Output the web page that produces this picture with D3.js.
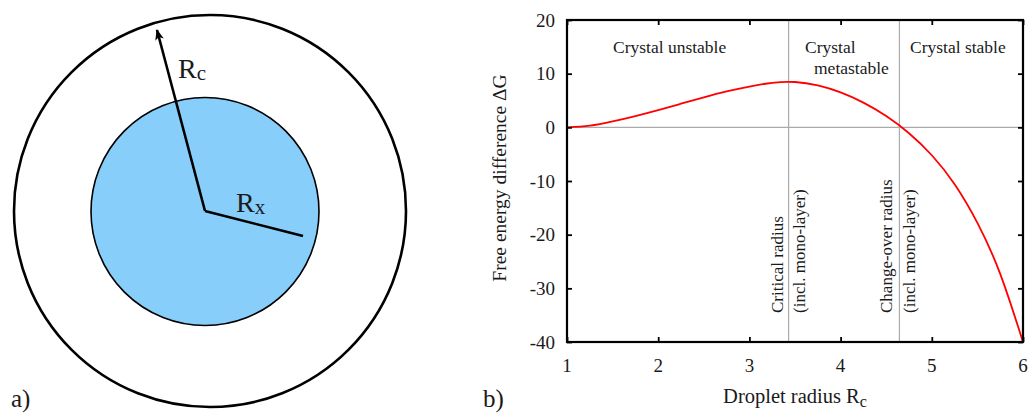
<!DOCTYPE html>
<html>
<head>
<meta charset="utf-8">
<script src="https://cdn.jsdelivr.net/npm/d3@7"></script>
<style>
  body { margin: 0; background: #fff; }
  svg { display: block; font-family: "Liberation Serif", "DejaVu Serif", serif; }
  text { fill: #1a1a1a; }
</style>
</head>
<body>
<div class="chart"></div>
<script>
// DATA ------------------------------------
const radius  = [1, 1.25, 1.5, 1.75, 2, 2.25, 2.5, 2.75, 3, 3.25, 3.5, 3.75, 4, 4.25, 4.5, 4.75, 5, 5.25, 5.5, 5.75, 6];
const deltaG  = [0, 0.3, 1.1, 2.1, 3.2, 4.4, 5.6, 6.7, 7.6, 8.3, 8.45, 7.8, 6.5, 4.6, 2.1, -1.1, -5.2, -10.6, -17.8, -27.3, -40];
const xTicks  = [1, 2, 3, 4, 5, 6];
const yTicks  = [20, 10, 0, -10, -20, -30, -40];
const markers = [3.43, 4.645];            // critical radius, change-over radius
const regions = ["Crystal unstable", "Crystal", "metastable", "Crystal stable"];
const markerLabels = ["Critical radius", "(incl. mono-layer)", "Change-over radius", "(incl. mono-layer)"];

// CHART INIT ------------------------------
const W = 1034, H = 415;
const svg = d3.select(".chart").append("svg")
    .attr("width", W)
    .attr("height", H);

// a) droplet sketch
const sketch = svg.append("g");
sketch.append("circle")
    .attr("cx", 210).attr("cy", 211).attr("r", 196)
    .attr("fill", "none").attr("stroke", "#000").attr("stroke-width", 2.6);
sketch.append("circle")
    .attr("cx", 205).attr("cy", 211.5).attr("r", 114)
    .attr("fill", "#87cefa").attr("stroke", "#000").attr("stroke-width", 1.6);

svg.append("defs").append("marker")
    .attr("id", "head")
    .attr("viewBox", "0 0 10 10")
    .attr("refX", 9).attr("refY", 5)
    .attr("markerWidth", 13).attr("markerHeight", 11)
    .attr("markerUnits", "userSpaceOnUse")
    .attr("orient", "auto")
    .append("path").attr("d", "M0,1 L10,5 L0,9 L2.5,5 Z").attr("fill", "#000");

sketch.append("line")
    .attr("x1", 205).attr("y1", 211).attr("x2", 157).attr("y2", 30)
    .attr("stroke", "#000").attr("stroke-width", 2.6)
    .attr("marker-end", "url(#head)");
sketch.append("line")
    .attr("x1", 205).attr("y1", 211).attr("x2", 303).attr("y2", 236)
    .attr("stroke", "#000").attr("stroke-width", 2.6);

const rc = sketch.append("text").attr("x", 178).attr("y", 78).attr("font-size", 28).text("R");
rc.append("tspan").attr("font-size", 21).attr("dy", 2).text("c");
const rx = sketch.append("text").attr("x", 236).attr("y", 212).attr("font-size", 28).text("R");
rx.append("tspan").attr("font-size", 21).attr("dy", 2).text("x");

svg.append("text").attr("x", 11).attr("y", 407).attr("font-size", 25).text("a)");
svg.append("text").attr("x", 483).attr("y", 407).attr("font-size", 25).text("b)");

// b) free energy plot
const plot = {left: 567, right: 1023, top: 20, bottom: 342};

const xScale = d3.scaleLinear().domain([1, 6]).range([plot.left, plot.right]);
const yScale = d3.scaleLinear().domain([-40, 20]).range([plot.bottom, plot.top]);

const g = svg.append("g");

// grey guide lines
g.append("line")
    .attr("x1", plot.left).attr("x2", plot.right)
    .attr("y1", yScale(0)).attr("y2", yScale(0))
    .attr("stroke", "#aaa").attr("stroke-width", 1.2);
g.selectAll(".marker")
    .data(markers)
    .enter().append("line")
    .attr("class", "marker")
    .attr("x1", d => xScale(d)).attr("x2", d => xScale(d))
    .attr("y1", plot.top).attr("y2", plot.bottom)
    .attr("stroke", "#aaa").attr("stroke-width", 1.2);

// curve
const line = d3.line()
    .x((d, i) => xScale(radius[i]))
    .y(d => yScale(d))
    .curve(d3.curveNatural);
g.append("path")
    .datum(deltaG)
    .attr("d", line)
    .attr("fill", "none")
    .attr("stroke", "#ff0000")
    .attr("stroke-width", 1.8);

// axes with inward ticks on all four sides
const tick = 5;
g.append("g").attr("transform", "translate(0," + plot.bottom + ")")
    .call(d3.axisTop(xScale).tickValues(xTicks).tickSize(tick).tickFormat(""));
g.append("g").attr("transform", "translate(0," + plot.top + ")")
    .call(d3.axisBottom(xScale).tickValues(xTicks).tickSize(tick).tickFormat(""));
g.append("g").attr("transform", "translate(" + plot.left + ",0)")
    .call(d3.axisRight(yScale).tickValues(yTicks).tickSize(tick).tickFormat(""));
g.append("g").attr("transform", "translate(" + plot.right + ",0)")
    .call(d3.axisLeft(yScale).tickValues(yTicks).tickSize(tick).tickFormat(""));
g.selectAll(".domain").remove();
g.selectAll(".tick line").attr("stroke", "#000").attr("stroke-width", 1.8);

g.append("rect")
    .attr("x", plot.left).attr("y", plot.top)
    .attr("width", plot.right - plot.left).attr("height", plot.bottom - plot.top)
    .attr("fill", "none").attr("stroke", "#000").attr("stroke-width", 2.2);

// tick labels
g.selectAll(".xlab")
    .data(xTicks)
    .enter().append("text")
    .attr("x", d => xScale(d)).attr("y", 372)
    .attr("text-anchor", "middle").attr("font-size", 19)
    .text(d => d);
g.selectAll(".ylab")
    .data(yTicks)
    .enter().append("text")
    .attr("x", 555).attr("y", d => yScale(d) + 6.5)
    .attr("text-anchor", "end").attr("font-size", 19)
    .text(d => d);

// axis titles
const xt = g.append("text").attr("x", 795).attr("y", 403)
    .attr("text-anchor", "middle").attr("font-size", 20.5).text("Droplet radius R");
xt.append("tspan").attr("font-size", 16).attr("dy", 4).text("c");
g.append("text")
    .attr("transform", "translate(506,178) rotate(-90)")
    .attr("text-anchor", "middle").attr("font-size", 19.5)
    .text("Free energy difference ΔG");

// region labels
const regionPos = [[613, 53], [805, 53], [814, 74], [910, 53]];
g.selectAll(".region")
    .data(regions)
    .enter().append("text")
    .attr("x", (d, i) => regionPos[i][0]).attr("y", (d, i) => regionPos[i][1])
    .attr("font-size", 17.5)
    .text(d => d);

// rotated marker labels
const labelX = [783, 805, 892, 915];
g.selectAll(".mlab")
    .data(markerLabels)
    .enter().append("text")
    .attr("transform", (d, i) => "translate(" + labelX[i] + ",313) rotate(-90)")
    .attr("font-size", 17)
    .text(d => d);
</script>
</body>
</html>
